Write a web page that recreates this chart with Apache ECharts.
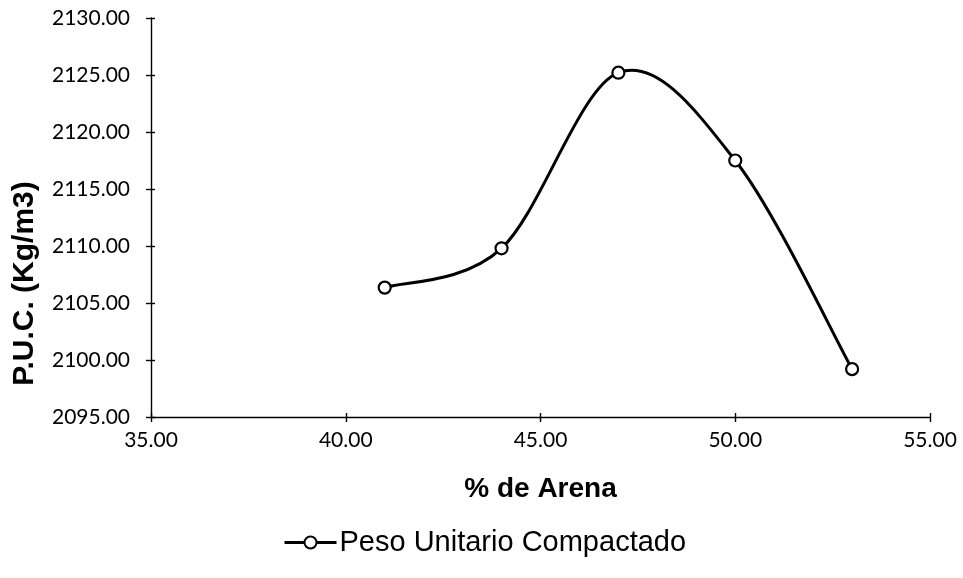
<!DOCTYPE html>
<html>
<head>
<meta charset="utf-8">
<script src="https://cdn.jsdelivr.net/npm/echarts@6/dist/echarts.min.js"></script>
<style>
  html, body { margin: 0; padding: 0; background: #fff; }
  #chart { width: 963px; height: 578px; }
</style>
</head>
<body>
<div id="chart"></div>
<script>
// % de arena in the mix and the compacted unit weight measured for each
const arenaPct = [41.0, 44.0, 47.0, 50.0, 53.0];
const pesoUnitario = [2106.35, 2109.8, 2125.2, 2117.5, 2099.2];
const seriesName = 'Peso Unitario Compactado';

const xMin = 35, xMax = 55, xStep = 5;
const yMin = 2095, yMax = 2130, yStep = 5;

const points = arenaPct.map((x, i) => [x, pesoUnitario[i]]);
const fmt2 = v => v.toFixed(2);
const tickFont = 'Lato, "Open Sans", sans-serif';
const titleFont = '"Liberation Sans", Arial, sans-serif';

// Smooth curve through the points: one cubic Bezier per segment, with
// Catmull-Rom style control points taken in pixel space.
function renderCurveSegment(params, api) {
  const i = params.dataIndex;
  if (i >= points.length - 1) return null;
  const P = points.map(p => api.coord(p));
  const prev = P[Math.max(i - 1, 0)];
  const p1 = P[i];
  const p2 = P[i + 1];
  const next = P[Math.min(i + 2, P.length - 1)];
  const k = 1 / 6;
  const c1 = [p1[0] + (p2[0] - prev[0]) * k, p1[1] + (p2[1] - prev[1]) * k];
  const c2 = [p2[0] - (next[0] - p1[0]) * k, p2[1] - (next[1] - p1[1]) * k];
  return {
    type: 'bezierCurve',
    shape: { x1: p1[0], y1: p1[1], cpx1: c1[0], cpy1: c1[1], cpx2: c2[0], cpy2: c2[1], x2: p2[0], y2: p2[1] },
    style: { stroke: '#000', lineWidth: 3, fill: null, lineCap: 'round' },
    silent: true
  };
}

const chart = echarts.init(document.getElementById('chart'), null, { renderer: 'canvas' });

const axisLineStyle = { color: '#000', width: 1.4 };
const tickLine = { color: '#000', width: 1.4 };

chart.setOption({
  backgroundColor: '#fff',
  animation: false,
  grid: { left: 151, right: 33, top: 18, bottom: 161, containLabel: false },
  xAxis: [{
    type: 'value', min: xMin, max: xMax, interval: xStep,
    name: '% de Arena', nameLocation: 'middle', nameGap: 58,
    nameTextStyle: { fontFamily: titleFont, fontWeight: 'bold', fontSize: 28, color: '#000' },
    axisLine: { show: true, lineStyle: axisLineStyle },
    axisTick: { show: true, length: 5, lineStyle: tickLine },
    axisLabel: { formatter: fmt2, fontFamily: tickFont, fontSize: 21, color: '#000', margin: 13 },
    splitLine: { show: false }
  }, {
    // inner half of the crossing tick marks
    type: 'value', min: xMin, max: xMax, interval: xStep, position: 'bottom',
    axisLine: { show: false },
    axisTick: { show: true, inside: true, length: 4, lineStyle: tickLine },
    axisLabel: { show: false }, splitLine: { show: false }
  }],
  yAxis: [{
    type: 'value', min: yMin, max: yMax, interval: yStep,
    name: 'P.U.C. (Kg/m3)', nameLocation: 'middle', nameGap: 111, nameRotate: 90,
    nameTextStyle: {
      fontFamily: titleFont, fontWeight: 'bold', fontSize: 30, color: '#000',
      // sits a little below the middle of the axis
      padding: [0, 132, 0, 0]
    },
    axisLine: { show: true, lineStyle: axisLineStyle },
    axisTick: { show: true, length: 5, lineStyle: tickLine },
    axisLabel: { formatter: fmt2, fontFamily: tickFont, fontSize: 21, color: '#000', margin: 21 },
    splitLine: { show: false }
  }, {
    type: 'value', min: yMin, max: yMax, interval: yStep, position: 'left',
    axisLine: { show: false },
    axisTick: { show: true, inside: true, length: 4, lineStyle: tickLine },
    axisLabel: { show: false }, splitLine: { show: false }
  }],
  legend: {
    top: 523, left: 278,
    itemWidth: 52, itemHeight: 15, itemGap: 10,
    textStyle: { fontFamily: titleFont, fontSize: 29, color: '#000', padding: [0, 0, 0, -2] },
    lineStyle: { color: '#000', width: 3, opacity: 1 },
    data: [seriesName]
  },
  series: [{
    name: 'curva',
    type: 'custom',
    data: points,
    renderItem: renderCurveSegment,
    z: 2
  }, {
    name: seriesName,
    type: 'line',
    data: points,
    symbol: 'circle',
    symbolSize: 12,
    showSymbol: true,
    lineStyle: { color: '#000', width: 3, opacity: 0 },
    itemStyle: { color: '#fff', borderColor: '#000', borderWidth: 2.2 },
    z: 3
  }]
});
</script>
</body>
</html>
